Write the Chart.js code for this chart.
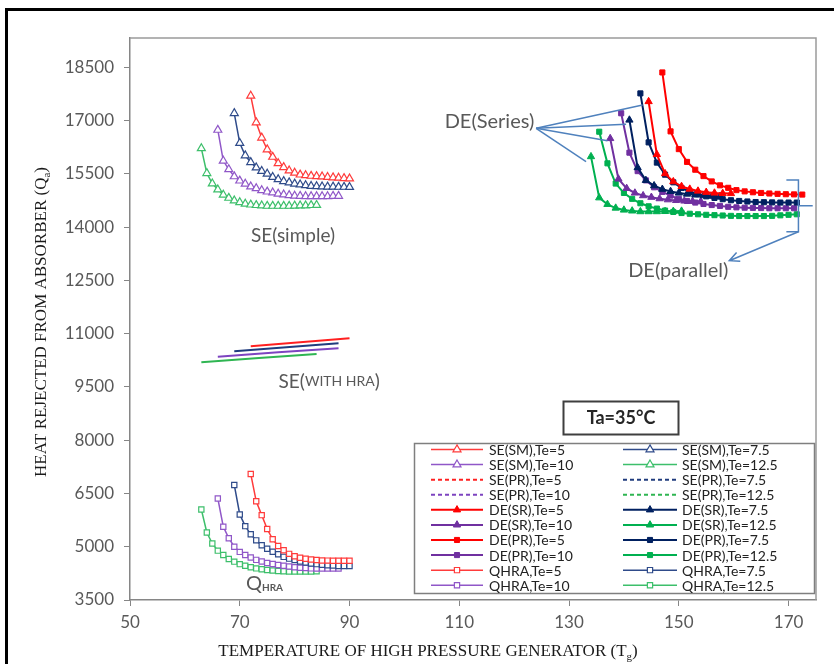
<!DOCTYPE html>
<html>
<head>
<meta charset="utf-8">
<script src="https://cdn.jsdelivr.net/npm/chart.js@4.4.1/dist/chart.umd.min.js"></script>
<style>
  html, body { margin: 0; padding: 0; background: #fff; }
  #wrap { position: relative; width: 834px; height: 664px; }
</style>
</head>
<body>
<div id="wrap"><canvas id="chart"></canvas></div>
<script>
// axis ticks
const xTicks = [50, 70, 90, 110, 130, 150, 170];
const yTicks = [3500, 5000, 6500, 8000, 9500, 11000, 12500, 14000, 15500, 17000, 18500];
const teLabels = ['Te=5', 'Te=7.5', 'Te=10', 'Te=12.5'];

// generator temperatures for the single effect runs (SE(SM) and QHRA)
const tgX5 = [72, 73, 74, 75, 76, 77, 78, 79, 80, 81, 82, 83, 84, 85, 86, 87, 88, 89, 90];
const tgX75 = [69, 70, 71, 72, 73, 74, 75, 76, 77, 78, 79, 80, 81, 82, 83, 84, 85, 86, 87, 88, 89, 90];
const tgX10 = [66, 67, 68, 69, 70, 71, 72, 73, 74, 75, 76, 77, 78, 79, 80, 81, 82, 83, 84, 85, 86, 87, 88];
const tgX125 = [63, 64, 65, 66, 67, 68, 69, 70, 71, 72, 73, 74, 75, 76, 77, 78, 79, 80, 81, 82, 83, 84];

// SE(simple) - Qa
const seSmY5 = [17700, 16950, 16520, 16190, 15980, 15800, 15690, 15595, 15530, 15480, 15460, 15445, 15435, 15425, 15410, 15400, 15390, 15380, 15370];
const seSmY75 = [17210, 16370, 16020, 15830, 15680, 15580, 15505, 15410, 15350, 15295, 15260, 15225, 15200, 15180, 15160, 15150, 15145, 15140, 15140, 15135, 15135, 15130];
const seSmY10 = [16740, 15870, 15630, 15430, 15310, 15220, 15145, 15095, 15040, 15000, 14975, 14940, 14920, 14900, 14885, 14880, 14870, 14870, 14870, 14870, 14870, 14880, 14880];
const seSmY125 = [16220, 15520, 15230, 15060, 14910, 14825, 14750, 14700, 14660, 14635, 14620, 14610, 14600, 14600, 14600, 14600, 14600, 14605, 14610, 14610, 14620, 14625];

// SE with HRA (PR)
const sePrX5 = [72, 81, 90];
const sePrY5 = [10650, 10760, 10870];
const sePrX75 = [69, 78.5, 88];
const sePrY75 = [10510, 10620, 10730];
const sePrX10 = [66, 77, 88];
const sePrY10 = [10355, 10475, 10590];
const sePrX125 = [63, 73.5, 84];
const sePrY125 = [10195, 10315, 10430];

// DE series (SR)
const deSrX5 = [144.5, 146, 147.5, 149, 150.5, 152, 153.5, 155, 156.5, 158, 159.5];
const deSrY5 = [17540, 16050, 15510, 15285, 15150, 15075, 15020, 14985, 14965, 14955, 14950];
const deSrX75 = [141, 142.5, 144, 145.5, 147, 148.5, 150, 151.5, 153, 154.5, 156, 157.5];
const deSrY75 = [17020, 15680, 15320, 15170, 15070, 15010, 14965, 14935, 14910, 14890, 14875, 14865];
const deSrX10 = [137.5, 139, 140.5, 142, 143.5, 145, 146.5, 148, 149.5, 151, 152.5, 154];
const deSrY10 = [16500, 15360, 15095, 14965, 14890, 14845, 14805, 14775, 14755, 14740, 14730, 14725];
const deSrX125 = [134, 135.5, 137, 138.5, 140, 141.5, 143, 144.5, 146, 147.5, 149, 150.5];
const deSrY125 = [15990, 14830, 14645, 14540, 14485, 14460, 14440, 14440, 14440, 14445, 14450, 14455];

// DE parallel (PR)
const dePrX5 = [147, 148.5, 150, 151.5, 153, 154.5, 156, 157.5, 159, 160.5, 162, 163.5, 165, 166.5, 168, 169.5, 171, 172.5];
const dePrY5 = [18360, 16700, 16200, 15840, 15620, 15440, 15290, 15180, 15110, 15045, 15010, 14985, 14965, 14950, 14940, 14930, 14925, 14920];
const dePrX75 = [143, 144.5, 146, 147.5, 149, 150.5, 152, 153.5, 155, 156.5, 158, 159.5, 161, 162.5, 164, 165.5, 167, 168.5, 170, 171.5];
const dePrY75 = [17770, 16390, 15820, 15480, 15265, 15105, 15005, 14930, 14870, 14825, 14790, 14760, 14740, 14725, 14710, 14705, 14700, 14695, 14695, 14695];
const dePrX10 = [139.5, 141, 142.5, 144, 145.5, 147, 148.5, 150, 151.5, 153, 154.5, 156, 157.5, 159, 160.5, 162, 163.5, 165, 166.5, 168, 169.5, 171];
const dePrY10 = [17210, 16100, 15580, 15320, 15125, 14995, 14890, 14800, 14740, 14695, 14655, 14625, 14600, 14575, 14560, 14550, 14545, 14540, 14535, 14535, 14535, 14535];
const dePrX125 = [135.5, 137, 138.5, 140, 141.5, 143, 144.5, 146, 147.5, 149, 150.5, 152, 153.5, 155, 156.5, 158, 159.5, 161, 162.5, 164, 165.5, 167, 168.5, 170, 171.5];
const dePrY125 = [16690, 15800, 15230, 14965, 14800, 14675, 14590, 14525, 14470, 14430, 14400, 14380, 14365, 14350, 14340, 14330, 14320, 14315, 14315, 14315, 14315, 14320, 14335, 14350, 14365];

// QHRA
const qY5 = [7050, 6280, 5890, 5500, 5210, 5020, 4900, 4800, 4730, 4690, 4660, 4640, 4625, 4615, 4610, 4605, 4605, 4605, 4605];
const qY75 = [6740, 5910, 5580, 5350, 5180, 5040, 4945, 4860, 4790, 4715, 4665, 4625, 4585, 4555, 4530, 4510, 4490, 4480, 4470, 4460, 4460, 4455];
const qY10 = [6360, 5565, 5240, 5000, 4855, 4765, 4695, 4630, 4585, 4540, 4515, 4485, 4465, 4445, 4425, 4410, 4400, 4390, 4385, 4385, 4385, 4385, 4385];
const qY125 = [6050, 5400, 5090, 4890, 4770, 4655, 4580, 4510, 4465, 4425, 4390, 4365, 4345, 4330, 4315, 4310, 4300, 4300, 4300, 4300, 4300, 4310];

const groups = [
  { name: 'SE(SM)', kind: 'seSM', xs: [tgX5, tgX75, tgX10, tgX125], ys: [seSmY5, seSmY75, seSmY10, seSmY125] },
  { name: 'SE(PR)', kind: 'sePR', xs: [sePrX5, sePrX75, sePrX10, sePrX125], ys: [sePrY5, sePrY75, sePrY10, sePrY125] },
  { name: 'DE(SR)', kind: 'deSR', xs: [deSrX5, deSrX75, deSrX10, deSrX125], ys: [deSrY5, deSrY75, deSrY10, deSrY125] },
  { name: 'DE(PR)', kind: 'dePR', xs: [dePrX5, dePrX75, dePrX10, dePrX125], ys: [dePrY5, dePrY75, dePrY10, dePrY125] },
  { name: 'QHRA', kind: 'qhra', xs: [tgX5, tgX75, tgX10, tgX125], ys: [qY5, qY75, qY10, qY125] },
];

const lightColors = ['#ff3b3b', '#2f4b8a', '#9057c8', '#3dbf6b'];
const prColors = ['#ff2020', '#203c7e', '#7d44c0', '#2fb552'];
const deColors = ['#ff0000', '#002060', '#7030a0', '#00b050'];

function styleFor(kind, i) {
  if (kind === 'seSM') return { borderColor: lightColors[i], borderWidth: 1.5, pointStyle: 'triangle', pointRadius: 4.6, pointBackgroundColor: '#fff', pointBorderWidth: 1.2 };
  if (kind === 'sePR') return { borderColor: prColors[i], borderWidth: 2, pointRadius: 0, legendDash: [4, 3] };
  if (kind === 'deSR') return { borderColor: deColors[i], borderWidth: 2, pointStyle: 'triangle', pointRadius: 4.2, pointBackgroundColor: deColors[i], pointBorderWidth: 1 };
  if (kind === 'dePR') return { borderColor: deColors[i], borderWidth: 2, pointStyle: 'rect', pointRadius: 3.6, pointBackgroundColor: deColors[i], pointBorderWidth: 1 };
  return { borderColor: lightColors[i], borderWidth: 1.5, pointStyle: 'rect', pointRadius: 3.7, pointBackgroundColor: '#fff', pointBorderWidth: 1.2 };
}

const datasets = [];
groups.forEach(g => {
  teLabels.forEach((te, i) => {
    datasets.push(Object.assign({
      label: g.name + ',' + te,
      data: g.xs[i].map((x, k) => ({ x: x, y: g.ys[i][k] })),
      showLine: true,
      tension: 0,
      pointBorderColor: styleFor(g.kind, i).borderColor,
    }, styleFor(g.kind, i)));
  });
});

// text and pointer annotations (data coordinates)
const notes = [
  { x: 79.7, y: 13760, runs: [['SE(simple)', '19px Lato']] },
  { x: 86.3, y: 9650, runs: [['SE(', '19px Lato'], ['WITH HRA', '14px Lato'], [')', '19px Lato']] },
  { x: 74.5, y: 3950, runs: [['Q', '20px Lato'], ['HRA', 'bold 10px Lato', 4]] },
  { x: 115.5, y: 16990, runs: [['DE(Series)', '20px Lato']] },
  { x: 149.9, y: 12770, runs: [['DE(parallel)', '20px Lato']] },
];
const seriesFrom = [124.0, 16787];
const seriesTo = [[143.4, 17443], [140.4, 16900], [137.0, 16437], [133.1, 15846]];

function runText(ctx, runs, x, y) {
  let w = 0;
  runs.forEach(r => { ctx.font = r[1]; w += ctx.measureText(r[0]).width; });
  let cx = x - w / 2;
  runs.forEach(r => {
    ctx.font = r[1];
    ctx.fillText(r[0], cx, y + (r[2] || 0));
    cx += ctx.measureText(r[0]).width;
  });
}

function marker(ctx, style, x, y, r, fill, stroke, lw) {
  ctx.beginPath();
  if (style === 'triangle') {
    for (let k = 0; k < 3; k++) {
      const a = k * 2 * Math.PI / 3;
      ctx.lineTo(x + Math.sin(a) * r, y - Math.cos(a) * r);
    }
    ctx.closePath();
  } else {
    const s = r * Math.SQRT1_2;
    ctx.rect(x - s, y - s, 2 * s, 2 * s);
  }
  ctx.fillStyle = fill;
  ctx.fill();
  ctx.strokeStyle = stroke;
  ctx.lineWidth = lw;
  ctx.stroke();
}

const decor = {
  id: 'decor',
  afterDraw(chart) {
    const { ctx, chartArea: a } = chart;
    const px = v => chart.scales.x.getPixelForValue(v);
    const py = v => chart.scales.y.getPixelForValue(v);
    ctx.save();

    // figure frame
    ctx.strokeStyle = '#000';
    ctx.lineWidth = 3;
    ctx.beginPath();
    ctx.moveTo(6.5, 664); ctx.lineTo(6.5, 9.5); ctx.lineTo(834, 9.5);
    ctx.stroke();

    // plot area border (top, right)
    ctx.strokeStyle = '#9a9a9a';
    ctx.lineWidth = 1.5;
    ctx.beginPath();
    ctx.moveTo(a.left, a.top); ctx.lineTo(a.right, a.top); ctx.lineTo(a.right, a.bottom);
    ctx.stroke();

    // axis titles
    const serif = '17px "Liberation Serif"';
    const sub = '11px "Liberation Serif"';
    ctx.fillStyle = '#1a1a1a';
    ctx.textBaseline = 'alphabetic';
    runText(ctx, [['TEMPERATURE OF HIGH PRESSURE GENERATOR (T', serif], ['g', sub, 4], [')', serif]], 428, 656);
    ctx.save();
    ctx.translate(46, 322);
    ctx.rotate(-Math.PI / 2);
    runText(ctx, [['HEAT REJECTED FROM ABSORBER (Q', serif], ['a', sub, 4], [')', serif]], 0, 0);
    ctx.restore();

    // labels on the plot
    ctx.fillStyle = '#595959';
    ctx.textBaseline = 'middle';
    notes.forEach(n => runText(ctx, n.runs, px(n.x), py(n.y)));

    // DE(Series) pointers
    ctx.strokeStyle = '#4f81bd';
    ctx.lineWidth = 1.5;
    seriesTo.forEach(t => {
      ctx.beginPath();
      ctx.moveTo(px(seriesFrom[0]), py(seriesFrom[1]));
      ctx.lineTo(px(t[0]), py(t[1]));
      ctx.stroke();
    });

    // DE(parallel) bracket and arrow
    const bx = px(171.8), bl = px(169.6), bt = py(15330), bb = py(13874), bm = py(14606);
    ctx.beginPath();
    ctx.moveTo(bl, bt); ctx.lineTo(bx, bt); ctx.lineTo(bx, bb); ctx.lineTo(bl, bb);
    ctx.moveTo(bx, bm); ctx.lineTo(px(174.4), bm);
    ctx.stroke();
    const tx = px(159.2), ty = py(13057);
    const ang = Math.atan2(bb - ty, bx - tx);
    ctx.beginPath();
    ctx.moveTo(bx, bb); ctx.lineTo(tx, ty);
    ctx.moveTo(tx + Math.cos(ang + 0.45) * 11, ty + Math.sin(ang + 0.45) * 11);
    ctx.lineTo(tx, ty);
    ctx.lineTo(tx + Math.cos(ang - 0.45) * 11, ty + Math.sin(ang - 0.45) * 11);
    ctx.stroke();

    // Ta box
    ctx.strokeStyle = '#3f3f3f';
    ctx.lineWidth = 2;
    ctx.strokeRect(563.5, 401.5, 115, 33);
    ctx.fillStyle = '#262626';
    runText(ctx, [['Ta=35°C', 'bold 18px Lato']], 621, 418.5);

    // legend
    ctx.fillStyle = '#fff';
    ctx.fillRect(414, 443, 401, 151);
    ctx.strokeStyle = '#7f7f7f';
    ctx.lineWidth = 1.5;
    ctx.strokeRect(414.5, 443.5, 400, 150);
    const cols = [[431, 483, 489], [623, 677, 682]];
    chart.data.datasets.forEach((ds, i) => {
      const c = cols[i % 2];
      const yy = 449.5 + Math.floor(i / 2) * 15.08;
      ctx.setLineDash(ds.legendDash || []);
      ctx.strokeStyle = ds.borderColor;
      ctx.lineWidth = ds.borderWidth;
      ctx.beginPath();
      ctx.moveTo(c[0], yy); ctx.lineTo(c[1], yy);
      ctx.stroke();
      ctx.setLineDash([]);
      if (ds.pointRadius > 0) {
        marker(ctx, ds.pointStyle, (c[0] + c[1]) / 2, yy, ds.pointRadius, ds.pointBackgroundColor, ds.borderColor, ds.pointBorderWidth);
      }
      ctx.fillStyle = '#222';
      ctx.font = '14px Lato';
      ctx.textBaseline = 'middle';
      ctx.fillText(ds.label, c[2], yy + 1);
    });

    ctx.restore();
  }
};

Chart.defaults.font.family = 'Lato';

new Chart(document.getElementById('chart'), {
  type: 'scatter',
  data: { datasets: datasets },
  options: {
    responsive: true,
    maintainAspectRatio: false,
    animation: false,
    layout: { padding: { left: 12, top: 38, right: 18, bottom: 10 } },
    plugins: { legend: { display: false }, tooltip: { enabled: false } },
    scales: {
      x: {
        type: 'linear',
        min: 50,
        max: 175,
        afterBuildTicks: s => { s.ticks = xTicks.map(v => ({ value: v })); },
        afterFit: s => { s.height = 54; },
        grid: { drawOnChartArea: false, drawTicks: true, tickLength: 6, color: '#868686' },
        border: { color: '#868686', width: 1.5 },
        ticks: { color: '#595959', font: { size: 17 }, padding: 6, autoSkip: false, maxRotation: 0, callback: v => String(v) },
      },
      y: {
        type: 'linear',
        min: 3500,
        max: 19330,
        afterBuildTicks: s => { s.ticks = yTicks.map(v => ({ value: v })); },
        afterFit: s => { s.width = 118; },
        grid: { drawOnChartArea: false, drawTicks: true, tickLength: 6, color: '#868686' },
        border: { color: '#868686', width: 1.5 },
        ticks: { color: '#595959', font: { size: 17 }, padding: 10, autoSkip: false, callback: v => String(v) },
      },
    },
  },
  plugins: [decor],
});
</script>
</body>
</html>
